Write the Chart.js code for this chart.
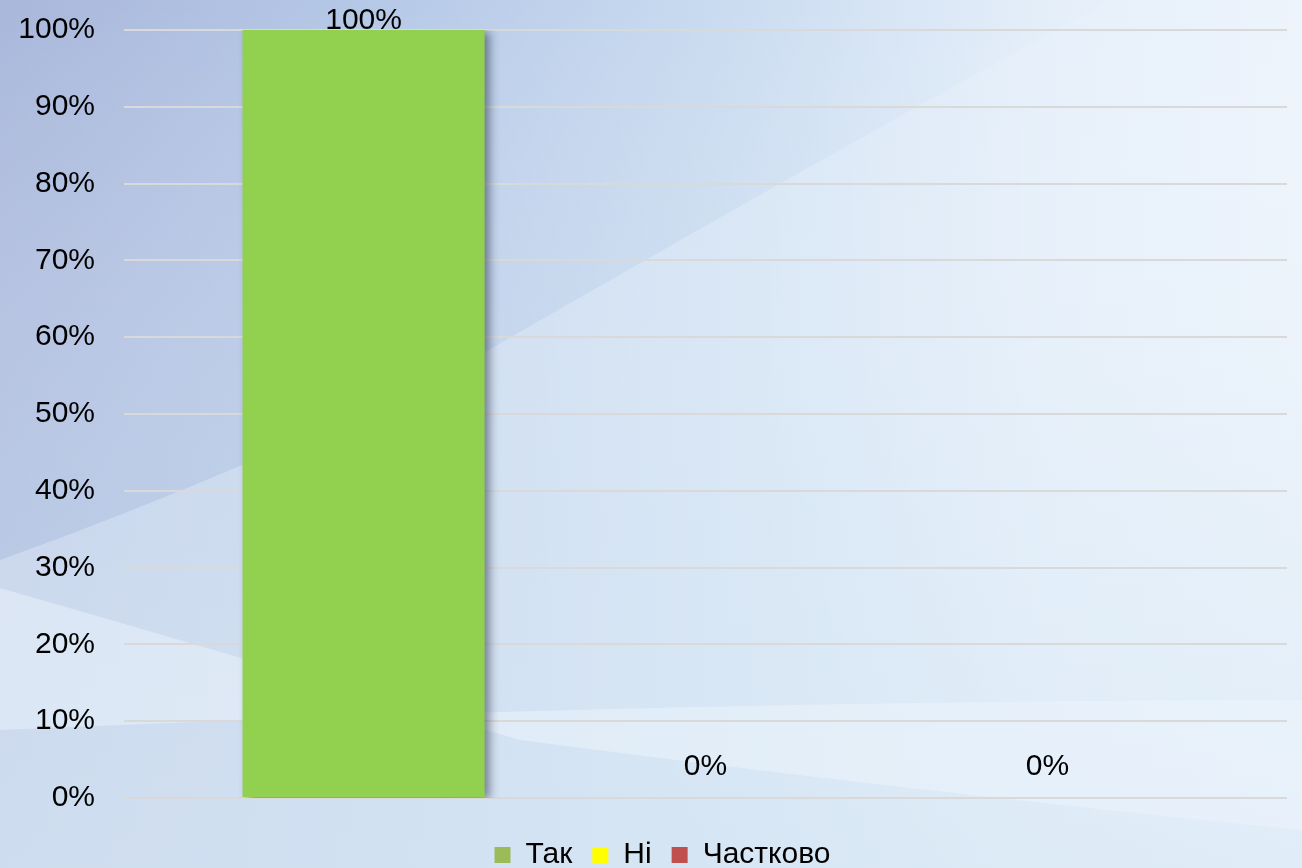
<!DOCTYPE html>
<html>
<head>
<meta charset="utf-8">
<script src="https://cdn.jsdelivr.net/npm/chart.js@4/dist/chart.umd.min.js"></script>
<style>
html,body{margin:0;padding:0;overflow:hidden;background:#c9dcef;}
#wrap{position:relative;width:1302px;height:868px;}
</style>
</head>
<body>
<div id="wrap"><canvas id="c" width="1302" height="868"></canvas></div>
<script>
// ---- data ----
const categories = ["Відповідь"];
const seriesNames = ["Так", "Ні", "Частково"];
const valuesTak = [100];
const valuesNi = [0];
const valuesChastkovo = [0];
const yTicks = [0, 10, 20, 30, 40, 50, 60, 70, 80, 90, 100];

const barColors = ["#92D050", "#FFFF00", "#C0504D"];
const legendColors = ["#9BBB59", "#FFFF00", "#C0504D"];
const FONT = "'Liberation Sans', Arial, sans-serif";

const bgPlugin = {
  id: 'bg',
  beforeDraw(chart) {
    const ctx = chart.ctx, W = chart.width, H = chart.height;
    ctx.save();
    let g = ctx.createLinearGradient(0, 0, W, 0);
    g.addColorStop(0, '#a9b7db');
    g.addColorStop(0.3, '#b6c9e7');
    g.addColorStop(0.55, '#c9dbf0');
    g.addColorStop(0.8, '#e4eef9');
    g.addColorStop(1, '#eef4fb');
    ctx.fillStyle = g;
    ctx.fillRect(0, 0, W, H);
    g = ctx.createLinearGradient(0, 0, 0, H);
    g.addColorStop(0, 'rgba(255,255,255,0)');
    g.addColorStop(0.6, 'rgba(215,232,245,0.35)');
    g.addColorStop(1, 'rgba(205,225,240,0.6)');
    ctx.fillStyle = g;
    ctx.fillRect(0, 0, W, H);
    ctx.beginPath();
    ctx.moveTo(1110, 0);
    ctx.quadraticCurveTo(800, 170, 480, 355);
    ctx.quadraticCurveTo(250, 470, 0, 560);
    ctx.lineTo(0, H);
    ctx.lineTo(W, H);
    ctx.lineTo(W, 0);
    ctx.closePath();
    ctx.fillStyle = 'rgba(235,243,251,0.35)';
    ctx.fill();
    ctx.beginPath();
    ctx.moveTo(0, 588);
    ctx.quadraticCurveTo(250, 660, 520, 740);
    ctx.quadraticCurveTo(900, 790, W, 830);
    ctx.lineTo(W, 700);
    ctx.quadraticCurveTo(700, 700, 0, 730);
    ctx.closePath();
    ctx.fillStyle = 'rgba(240,246,252,0.45)';
    ctx.fill();
    ctx.restore();
  }
};

const shadowPlugin = {
  id: 'barShadow',
  beforeDatasetDraw(chart) {
    const ctx = chart.ctx;
    ctx.save();
    ctx.shadowColor = 'rgba(20,30,50,0.5)';
    ctx.shadowBlur = 9;
    ctx.shadowOffsetX = 5;
    ctx.shadowOffsetY = 2;
  },
  afterDatasetDraw(chart) {
    chart.ctx.restore();
  }
};

const labelPlugin = {
  id: 'valueLabels',
  afterDatasetsDraw(chart) {
    const ctx = chart.ctx;
    ctx.save();
    ctx.font = '30px ' + FONT;
    ctx.fillStyle = '#000';
    ctx.textAlign = 'center';
    ctx.textBaseline = 'middle';
    chart.data.datasets.forEach((ds, i) => {
      const meta = chart.getDatasetMeta(i);
      meta.data.forEach((el, j) => {
        const v = ds.data[j];
        const y = Math.max(el.y - 31, 21);
        ctx.fillText(v + '%', el.x, y);
      });
    });
    ctx.restore();
  }
};

// nudge the legend slightly right, as in the original
const legendShift = {
  id: 'legendShift',
  afterLayout(chart) {
    const lg = chart.legend;
    if (lg) { lg.left += 10; lg.right += 10; }
  }
};

const seriesValues = [valuesTak, valuesNi, valuesChastkovo];

new Chart(document.getElementById('c'), {
  type: 'bar',
  data: {
    labels: categories,
    datasets: seriesNames.map((n, i) => ({
      label: n,
      data: seriesValues[i],
      backgroundColor: barColors[i],
      borderWidth: 0,
      categoryPercentage: 0.882,
      barPercentage: 0.708
    }))
  },
  options: {
    responsive: false,
    animation: false,
    devicePixelRatio: 1,
    layout: { padding: { left: 18, right: 15, top: 30, bottom: -12 } },
    scales: {
      x: {
        display: true,
        grid: { display: false },
        border: { display: false },
        ticks: { display: false },
        afterFit: (s) => { s.height = 22; }
      },
      y: {
        min: 0, max: 100,
        afterBuildTicks: (s) => { s.ticks = yTicks.map(v => ({ value: v })); },
        afterFit: (s) => { s.width = 106; s.paddingTop = 0; s.paddingBottom = 0; },
        ticks: {
          callback: (v) => v + '%',
          font: { size: 30, family: FONT },
          color: '#000',
          padding: 29
        },
        grid: { color: '#d9d9d9', lineWidth: 2, drawTicks: false },
        border: { display: false }
      }
    },
    plugins: {
      tooltip: { enabled: false },
      legend: {
        position: 'bottom',
        labels: {
          font: { size: 30, family: FONT },
          color: '#000',
          boxWidth: 16,
          boxHeight: 16,
          padding: 20,
          generateLabels: (chart) => {
            const items = Chart.defaults.plugins.legend.labels.generateLabels(chart);
            items.forEach((it, i) => { it.fillStyle = legendColors[i]; it.strokeStyle = legendColors[i]; it.lineWidth = 0; });
            return items;
          }
        }
      }
    }
  },
  plugins: [bgPlugin, shadowPlugin, labelPlugin, legendShift]
});
</script>
</body>
</html>
